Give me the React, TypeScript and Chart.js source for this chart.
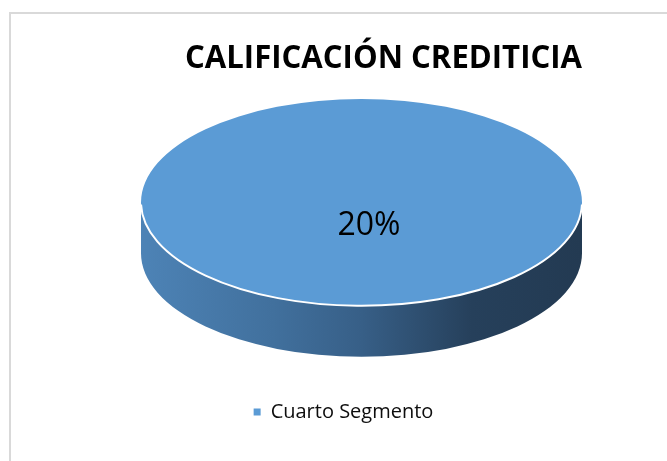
import { useEffect, useRef } from "react";
import { Chart, registerables } from "chart.js";

Chart.register(...registerables);

const TITLE = "CALIFICACIÓN CREDITICIA";
const categories = ["Cuarto Segmento"];
const values = [0.2];
const colors = ["#5b9bd5"];

const CANVAS_W = 656;
const CANVAS_H = 447;
// 3D look
const RX_FRAC = 0.3408; // ellipse half-width relative to chart area width
const CX_SHIFT = 18; // plot area shift to the right
const TILT = 0.469; // ry / rx
const DEPTH = 0.231; // depth / rx

function geometry(chart: any) {
  const ca = chart.chartArea;
  const rx = ca.width * RX_FRAC;
  const ry = rx * TILT;
  const depth = rx * DEPTH;
  const cx = ca.left + ca.width / 2 + CX_SHIFT;
  const cy = ca.top + ry;
  return { rx, ry, depth, cx, cy };
}

const pie3d = {
  id: "pie3d",
  beforeDatasetsDraw(chart: any) {
    const ctx = chart.ctx;
    const { rx, ry, depth, cx, cy } = geometry(chart);
    const arc: any = chart.getDatasetMeta(0).data[0];
    // side wall
    const g = ctx.createLinearGradient(cx - rx, 0, cx + rx, 0);
    g.addColorStop(0, "#4d83b6");
    g.addColorStop(0.3, "#41709d");
    g.addColorStop(0.5, "#375f87");
    g.addColorStop(0.75, "#26405b");
    g.addColorStop(1, "#233a52");
    ctx.save();
    ctx.beginPath();
    ctx.ellipse(cx, cy, rx, ry, 0, 0, Math.PI, false);
    ctx.lineTo(cx - rx, cy + depth);
    ctx.ellipse(cx, cy + depth, rx, ry, 0, Math.PI, 0, true);
    ctx.closePath();
    ctx.fillStyle = g;
    ctx.fill();
    ctx.restore();
    // squash the pie top into an ellipse
    ctx.save();
    ctx.translate(cx, cy);
    ctx.scale(rx / arc.outerRadius, ry / arc.outerRadius);
    ctx.translate(-arc.x, -arc.y);
  },
  afterDatasetsDraw(chart: any) {
    const ctx = chart.ctx;
    ctx.restore();
    const { rx, ry, cx, cy } = geometry(chart);
    // white rim on the front edge
    ctx.save();
    ctx.beginPath();
    ctx.ellipse(cx, cy, rx, ry, 0, 0.02, Math.PI - 0.02, false);
    ctx.strokeStyle = "#ffffff";
    ctx.lineWidth = 2;
    ctx.stroke();
    // data label
    const v = chart.data.datasets[0].data[0];
    ctx.fillStyle = "#000000";
    ctx.font = "32px 'Open Sans', sans-serif";
    ctx.textAlign = "center";
    ctx.textBaseline = "alphabetic";
    ctx.fillText(Math.round(v * 100) + "%", cx + rx * 0.034, cy + ry * 0.315);
    ctx.restore();
  },
  afterDraw(chart: any) {
    const ctx = chart.ctx;
    const { cx } = geometry(chart);
    ctx.save();
    ctx.fillStyle = "#000000";
    ctx.font = "bold 32px 'Open Sans', sans-serif";
    ctx.textAlign = "center";
    ctx.textBaseline = "alphabetic";
    ctx.fillText(TITLE, cx + 22, 54, 397);
    ctx.restore();
  },
};

export default function App() {
  const ref = useRef<HTMLCanvasElement | null>(null);
  useEffect(() => {
    if (!ref.current) return;
    const chart = new Chart(ref.current, {
      type: "pie",
      data: {
        labels: categories,
        datasets: [
          {
            data: values,
            backgroundColor: colors,
            borderWidth: 0,
            clip: false as any,
          },
        ],
      },
      options: {
        responsive: false,
        animation: false,
        events: [],
        layout: { padding: { left: 9, right: 0, top: 85, bottom: 29 } },
        plugins: {
          tooltip: { enabled: false },
          title: { display: false },
          legend: {
            display: true,
            position: "bottom",
            labels: {
              boxWidth: 7,
              boxHeight: 7,
              padding: 10,
              color: "#0d0d0d",
              font: { family: "'Open Sans', sans-serif", size: 20 },
            },
          },
        },
      },
      plugins: [pie3d],
    });
    return () => chart.destroy();
  }, []);
  return (
    <div
      style={{
        position: "fixed",
        left: 9,
        top: 12,
        width: CANVAS_W,
        height: CANVAS_H,
        border: "2px solid #d9d9d9",
        background: "#ffffff",
      }}
    >
      <canvas
        ref={ref}
        width={CANVAS_W}
        height={CANVAS_H}
        style={{ display: "block", width: CANVAS_W, height: CANVAS_H }}
      />
    </div>
  );
}
